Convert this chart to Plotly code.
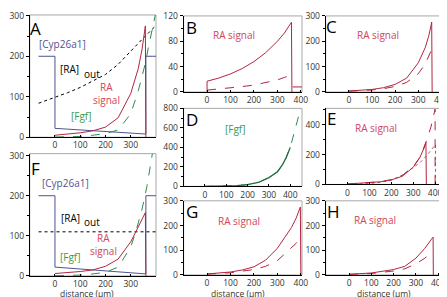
import plotly.graph_objects as go

# ---------------- data ----------------
# Panel A
cyp_x_A = [-65, 0, 0, 360, 360, 400]
cyp_y_A = [200, 200, 22, 8, 200, 200]
raout_x_A = [-65, 0, 50, 100, 150, 200, 250, 300, 350, 400]
raout_y_A = [84, 98, 110, 123, 138, 155, 180, 213, 245, 276]
ra_x_A = [0, 50, 100, 150, 200, 250, 300, 330, 345, 355, 358, 360]
ra_y_A = [5, 8, 11, 16, 25, 48, 108, 170, 218, 262, 275, 0]
fgf_x_A = [0, 100, 150, 200, 250, 300, 330, 358, 370, 390, 400]
fgf_y_A = [0.5, 2, 5, 9, 18, 58, 115, 183, 222, 284, 310]

# Panel F
cyp_x_F = [-65, 0, 0, 360, 360, 400]
cyp_y_F = [200, 200, 22, 5, 200, 200]
raout_x_F = [-65, 400]
raout_y_F = [110, 110]
ra_x_F = [0, 50, 100, 150, 200, 250, 300, 320, 340, 355, 358, 360]
ra_y_F = [6, 8, 11, 15, 24, 42, 85, 110, 135, 155, 158, 0]
fgf_x_F = [0, 100, 150, 200, 250, 300, 320, 345, 364, 383, 395]
fgf_y_F = [0.5, 2, 5, 9, 22, 72, 110, 167, 223, 300, 340]

# Panel B
ra_x_B = [0, 0, 50, 100, 150, 200, 250, 300, 330, 360, 362]
ra_y_B = [0, 17, 22, 28.5, 37, 48, 62, 80, 93, 110, 0]
ra_tail_x_B = [365, 405]
ra_tail_y_B = [8, 8]
rad_x_B = [0, 50, 100, 150, 200, 250, 300, 330, 360]
rad_y_B = [3, 4.5, 6.5, 8.5, 11, 14.5, 19, 23, 27]

# Panel C
ra_x_C = [0, 50, 100, 150, 200, 250, 300, 330, 345, 355, 358, 360]
ra_y_C = [4, 6, 10, 17, 30, 55, 115, 175, 220, 262, 276, 0]
rad_x_C = [0, 50, 100, 150, 200, 250, 300, 330, 345, 358]
rad_y_C = [3, 5, 8, 13, 22, 38, 72, 110, 138, 168]

# Panel D
fgf_x_D = [0, 100, 150, 200, 250, 300, 340, 363, 380, 400]
fgf_y_D = [0, 3, 8, 18, 40, 90, 150, 220, 290, 400]
fgfd_x_D = [0, 100, 150, 200, 250, 300, 340, 363, 380, 400, 410, 424, 436, 448, 455]
fgfd_y_D = [0, 3, 8, 18, 40, 90, 150, 220, 290, 400, 480, 600, 700, 800, 850]

# Panel E
ra_x_E = [0, 100, 150, 200, 250, 300, 330, 350, 358, 360]
ra_y_E = [3, 10, 18, 30, 55, 115, 180, 245, 282, 0]
rad_x_E = [0, 100, 150, 200, 250, 300, 330, 360, 380, 400, 400]
rad_y_E = [3, 10, 18, 32, 60, 120, 180, 290, 380, 505, 0]
rado_x_E = [0, 100, 150, 200, 250, 300, 330, 360, 380, 402, 402]
rado_y_E = [1, 6, 14, 30, 62, 112, 145, 190, 230, 268, 0]

# Panel G
ra_x_G = [0, 100, 150, 200, 250, 300, 330, 360, 380, 398, 400]
ra_y_G = [4, 12, 20, 33, 60, 108, 150, 192, 230, 275, 0]
rad_x_G = [0, 100, 200, 250, 300, 350, 380, 398]
rad_y_G = [3, 9, 22, 35, 58, 100, 128, 155]

# Panel H
ra_x_H = [0, 100, 200, 250, 300, 340, 370, 377, 378]
ra_y_H = [3, 8, 22, 35, 68, 108, 145, 153, 0]
rad_x_H = [0, 100, 200, 250, 300, 340, 377]
rad_y_H = [2, 6, 16, 25, 45, 68, 95]

x_ticks_short = [0, 100, 200, 300]
x_ticks_long = [0, 100, 200, 300, 400]

# ---------------- styling ----------------
W, H = 447, 297
RED = "#b3263f"
RED_T = "#cf4659"
GREEN = "#2f8a4e"
GREEN_T = "#3b9a4f"
BLUE = "#4f5393"
FONT = "Open Sans"

def px2x(p):
    return p / W

def px2y(p):
    return 1 - p / H

# panel: axis index, x px range, y px range (top,bottom), x range, y range, y dtick, minor, x ticks
panels = {
    "A": (1, (22, 150), (1, 128), (-100, 400), (0, 302), 100, 50, x_ticks_short),
    "B": (2, (178, 298), (2, 81), (-100, 405), (0, 120), 40, 20, x_ticks_long),
    "C": (3, (322, 444), (2, 81), (-100, 420), (0, 300), 100, 50, x_ticks_long),
    "D": (4, (178, 298), (98, 179), (-100, 455), (0, 800), 200, 100, x_ticks_long),
    "E": (5, (322, 444), (98, 177), (-100, 450), (0, 510), 200, 100, x_ticks_long),
    "F": (6, (22, 150), (145, 272), (-100, 400), (0, 305), 100, 50, x_ticks_short),
    "G": (7, (178, 298), (194, 271), (-100, 405), (0, 300), 100, 50, x_ticks_long),
    "H": (8, (322, 444), (194, 271), (-105, 435), (0, 300), 100, 50, x_ticks_long),
}

fig = go.Figure()

def add(panel, x, y, color, dash="solid", width=1.0):
    idx = panels[panel][0]
    fig.add_trace(go.Scatter(
        x=x, y=y, mode="lines",
        line=dict(color=color, dash=dash, width=width),
        xaxis="x" if idx == 1 else f"x{idx}",
        yaxis="y" if idx == 1 else f"y{idx}",
        showlegend=False, hoverinfo="skip",
    ))

# A
add("A", cyp_x_A, cyp_y_A, BLUE)
add("A", raout_x_A, raout_y_A, "black", "dot")
add("A", fgf_x_A, fgf_y_A, GREEN, "dash")
add("A", ra_x_A, ra_y_A, RED)
# F
add("F", cyp_x_F, cyp_y_F, BLUE)
add("F", raout_x_F, raout_y_F, "black", "dot")
add("F", fgf_x_F, fgf_y_F, GREEN, "dash")
add("F", ra_x_F, ra_y_F, RED)
# B
add("B", ra_x_B, ra_y_B, RED)
add("B", ra_tail_x_B, ra_tail_y_B, RED)
add("B", rad_x_B, rad_y_B, RED, "dash")
# C
add("C", ra_x_C, ra_y_C, RED)
add("C", rad_x_C, rad_y_C, RED, "dash")
# D
add("D", fgfd_x_D, fgfd_y_D, GREEN, "dash")
add("D", fgf_x_D, fgf_y_D, "#1f6b3a", "solid", 1.3)
# E
add("E", rado_x_E, rado_y_E, RED, "dot", 0.8)
add("E", rad_x_E, rad_y_E, RED, "dash")
add("E", ra_x_E, ra_y_E, RED)
# G
add("G", ra_x_G, ra_y_G, RED)
add("G", rad_x_G, rad_y_G, RED, "dash")
# H
add("H", ra_x_H, ra_y_H, RED)
add("H", rad_x_H, rad_y_H, RED, "dash")

layout = dict(
    width=W, height=H, autosize=False,
    margin=dict(l=0, r=0, t=0, b=0),
    paper_bgcolor="white", plot_bgcolor="white",
    font=dict(family=FONT, size=9, color="#333333"),
    showlegend=False,
)
shapes = []
for name, (idx, xpx, ypx, xr, yr, ydt, yminor, xt) in panels.items():
    xa = "xaxis" if idx == 1 else f"xaxis{idx}"
    ya = "yaxis" if idx == 1 else f"yaxis{idx}"
    xref = "x" if idx == 1 else f"x{idx}"
    yref = "y" if idx == 1 else f"y{idx}"
    layout[xa] = dict(
        domain=[px2x(xpx[0]), px2x(xpx[1])], range=list(xr), anchor=yref,
        showline=True, linecolor="black", linewidth=1, ticks="inside",
        ticklen=2, tickcolor="black", tickvals=xt, showgrid=False,
        zeroline=False, tickfont=dict(size=8.5, color="#333333", family=FONT),
        ticklabeloverflow="allow", fixedrange=True,
    )
    yvals = list(range(0, int(yr[1]) + 1, ydt))
    yax = dict(
        domain=[px2y(ypx[1]), px2y(ypx[0])], range=list(yr), anchor=xref,
        showline=True, linecolor="black", linewidth=1, ticks="outside",
        ticklen=3, tickcolor="black", tickvals=yvals, showgrid=False,
        zeroline=False, tickfont=dict(size=8.5, color="#333333", family=FONT),
        ticklabeloverflow="allow", fixedrange=True,
    )
    if yminor:
        yax["minor"] = dict(ticks="outside", dtick=yminor, tick0=0, ticklen=2,
                            tickcolor="black", showgrid=False)
    layout[ya] = yax
    shapes.append(dict(type="rect", xref=f"{xref} domain", yref=f"{yref} domain",
                       x0=0, x1=1, y0=0, y1=1, line=dict(color="#a8a8a8", width=1),
                       layer="below"))
layout["shapes"] = shapes

def ann(text, xp, yp, color="black", size=10):
    return dict(text=text, x=px2x(xp), y=px2y(yp), xref="paper", yref="paper",
                showarrow=False, xanchor="center", yanchor="middle",
                font=dict(family=FONT, size=size, color=color))

annotations = [
    ann("A", 28, 15, size=17), ann("B", 186, 14, size=17), ann("C", 328, 13, size=17),
    ann("D", 186, 110, size=17), ann("E", 328, 108, size=17), ann("F", 28, 160, size=17),
    ann("G", 186, 205, size=17), ann("H", 330, 205, size=17),
    # A labels
    ann("[Cyp26a1]", 55, 31, BLUE, 10), ann("[RA]", 62, 57, "black", 10),
    ann("out", 85, 62, "black", 10), ann("RA", 100, 76, RED_T, 10),
    ann("signal", 100, 89, RED_T, 10), ann("[Fgf]", 75, 106, GREEN_T, 10),
    # F labels
    ann("[Cyp26a1]", 58, 175, BLUE, 10), ann("[RA]", 63, 212, "black", 10),
    ann("out", 85, 216, "black", 10), ann("RA", 97, 233, RED_T, 10),
    ann("signal", 97, 246, RED_T, 10), ann("[Fgf]", 63, 252, GREEN_T, 10),
    # others
    ann("RA signal", 229, 22, RED_T, 10), ann("RA signal", 375, 22, RED_T, 10),
    ann("[Fgf]", 231, 119, GREEN_T, 10), ann("RA signal", 373, 118, RED_T, 10),
    ann("RA signal", 234, 215, RED_T, 10), ann("RA signal", 372, 214, RED_T, 10),
    ann("distance (µm)", 80, 290.5, "#333333", 8.5), ann("distance (µm)", 233, 290, "#333333", 8.5),
    ann("distance (µm)", 381, 290, "#333333", 8.5),
]
layout["annotations"] = annotations

fig.update_layout(**layout)
fig.write_html("out.html")
